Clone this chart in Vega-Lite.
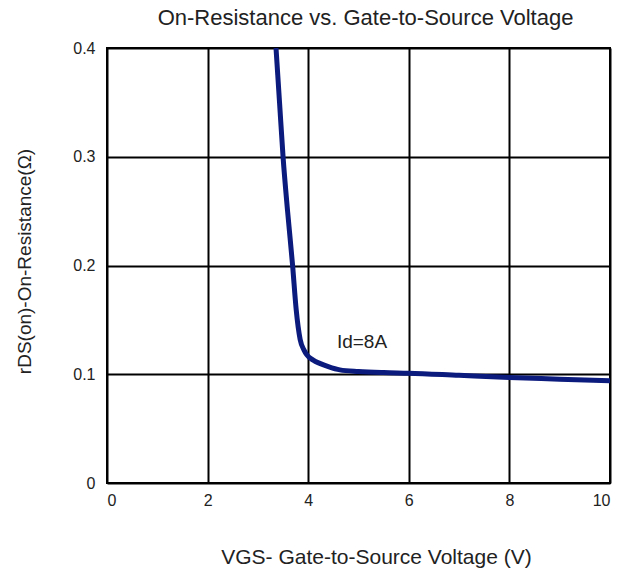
{
  "$schema": "https://vega.github.io/schema/vega-lite/v6.json",
  "width": 503,
  "height": 435,
  "autosize": "none",
  "padding": {"left": 107, "top": 48, "right": 26, "bottom": 91},
  "background": "white",
  "title": {
    "text": "On-Resistance vs. Gate-to-Source Voltage",
    "fontSize": 22,
    "fontWeight": "normal",
    "font": "Liberation Sans",
    "color": "#222222",
    "offset": 10,
    "dx": 7
  },
  "config": {
    "view": {"stroke": "black", "strokeWidth": 2},
    "axis": {
      "domain": false,
      "ticks": false,
      "grid": true,
      "gridColor": "black",
      "gridWidth": 2,
      "gridOpacity": 1,
      "labelFont": "Liberation Sans",
      "labelFontSize": 16,
      "labelColor": "#222222",
      "titleFont": "Liberation Sans",
      "titleFontWeight": "normal",
      "titleColor": "#222222"
    }
  },
  "layer": [
    {
      "data": {
        "values": [
          {"v": 3.36, "r": 0.40},
          {"v": 3.43, "r": 0.35},
          {"v": 3.50, "r": 0.30},
          {"v": 3.59, "r": 0.25},
          {"v": 3.69, "r": 0.20},
          {"v": 3.76, "r": 0.16},
          {"v": 3.84, "r": 0.132},
          {"v": 3.92, "r": 0.122},
          {"v": 3.97, "r": 0.118},
          {"v": 4.1, "r": 0.113},
          {"v": 4.23, "r": 0.110},
          {"v": 4.4, "r": 0.107},
          {"v": 4.63, "r": 0.104},
          {"v": 5.0, "r": 0.1025},
          {"v": 5.5, "r": 0.1015},
          {"v": 6.0, "r": 0.101},
          {"v": 7.0, "r": 0.099},
          {"v": 8.0, "r": 0.097},
          {"v": 9.0, "r": 0.0955},
          {"v": 10.0, "r": 0.094}
        ]
      },
      "mark": {"type": "line", "color": "#0b1a7d", "strokeWidth": 5, "interpolate": "monotone", "clip": true},
      "encoding": {
        "x": {
          "field": "v", "type": "quantitative",
          "scale": {"domain": [0, 10], "nice": false},
          "axis": {
            "values": [0, 2, 4, 6, 8, 10],
            "format": "d",
            "labelPadding": 9,
            "title": "VGS- Gate-to-Source Voltage (V)",
            "titleFontSize": 21,
            "titleX": 269,
            "titleY": 80,
            "titleBaseline": "alphabetic"
          }
        },
        "y": {
          "field": "r", "type": "quantitative",
          "scale": {"domain": [0, 0.4], "nice": false},
          "axis": {
            "values": [0, 0.1, 0.2, 0.3, 0.4],
            "format": ".1~f",
            "labelPadding": 12,
            "title": "rDS(on)-On-Resistance(Ω)",
            "titleFontSize": 19,
            "titleX": -83,
            "titleY": 213,
            "titleAngle": -90,
            "titleBaseline": "middle"
          }
        }
      }
    },
    {
      "data": {"values": [{"v": 5.07, "r": 0.124, "label": "Id=8A"}]},
      "mark": {"type": "text", "font": "Liberation Sans", "fontSize": 19, "color": "#222222", "baseline": "alphabetic", "align": "center"},
      "encoding": {
        "x": {"field": "v", "type": "quantitative"},
        "y": {"field": "r", "type": "quantitative"},
        "text": {"field": "label"}
      }
    }
  ]
}
